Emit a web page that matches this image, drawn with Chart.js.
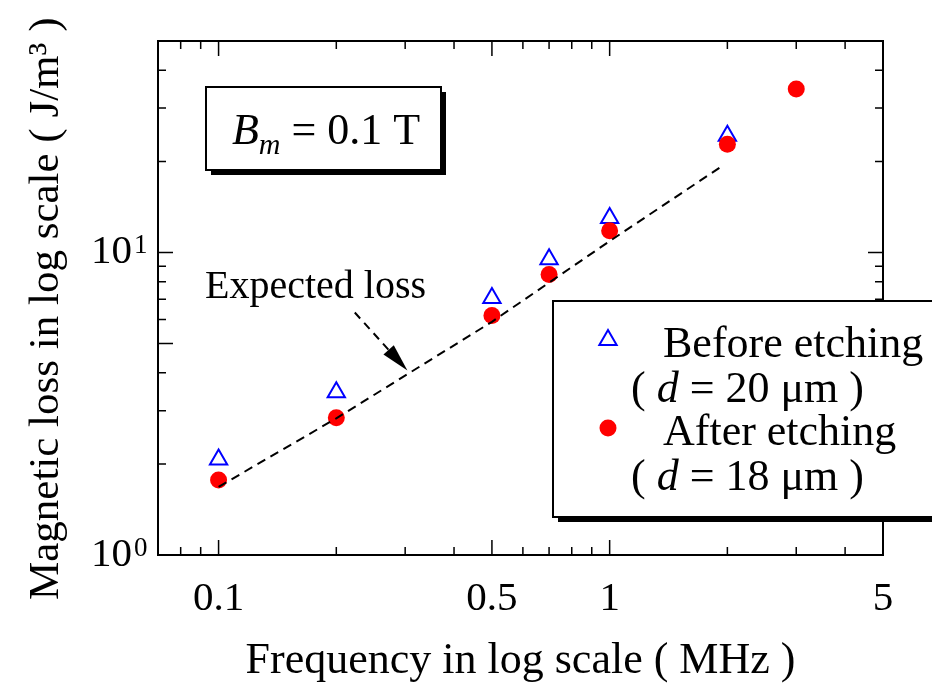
<!DOCTYPE html>
<html>
<head>
<meta charset="utf-8">
<script src="https://cdn.jsdelivr.net/npm/chart.js@4.4.1/dist/chart.umd.min.js"></script>
<style>
  body { margin: 0; background: #fff; }
  #wrap { width: 932px; height: 689px; }
</style>
</head>
<body>
<div id="wrap"><canvas id="lossChart" width="932" height="689"></canvas></div>
<script>
// Values (frequency in MHz, loss in J/m^3)
const freqBefore = [0.1, 0.2, 0.5, 0.7, 1, 2];
const lossBefore = [2.07, 3.45, 7.07, 9.5, 13.0, 24.3];
const freqAfter = [0.1, 0.2, 0.5, 0.7, 1, 2, 3];
const lossAfter = [1.77, 2.84, 6.19, 8.46, 11.8, 22.8, 34.7];
const freqExpected = [0.1, 0.2, 0.5, 1, 1.95];
const lossExpected = [1.68, 2.83, 5.9, 10.9, 19.4];

// Axes
const xRange = [0.07, 5];
const yRange = [1, 50];
const xLabelTicks = [0.1, 0.5, 1, 5];
const xMinorTicks = [0.08, 0.09, 0.2, 0.3, 0.4, 0.6, 0.7, 0.8, 0.9, 2, 3, 4];
const yLabelTicks = [1, 10];
const yLongTicks = [1, 5, 10];
const yMinorTicks = [2, 3, 4, 6, 7, 8, 9, 20, 30, 40];

// Annotation: "Expected loss" text and arrow (data coords)
const noteText = 'Expected loss';
const notePos = [0.177, 7.66];
const arrowFrom = [0.223, 6.33];
const arrowTo = [0.304, 4.07];

const legendLines = [
    ['Before etching', '20'],
    ['After etching', '18']
];

const serif = "'Liberation Serif', 'Times New Roman', serif";
Chart.defaults.font.family = serif;
Chart.defaults.color = '#000';

function toPts(xs, ys) {
    return xs.map((x, i) => ({ x: x, y: ys[i] }));
}

// draw a row of text runs with different fonts, starting at x
function drawRuns(ctx, x, y, runs) {
    runs.forEach(r => {
        ctx.font = r.font;
        ctx.fillText(r.text, x, y + (r.dy || 0));
        x += ctx.measureText(r.text).width;
    });
}
function runsWidth(ctx, runs) {
    let w = 0;
    runs.forEach(r => { ctx.font = r.font; w += ctx.measureText(r.text).width; });
    return w;
}

function shadowBox(ctx, x, y, w, h) {
    ctx.fillStyle = '#000';
    ctx.fillRect(x + 5, y + h, w, 5);
    ctx.fillRect(x + w, y + 5, 5, h);
    ctx.fillStyle = '#fff';
    ctx.fillRect(x, y, w, h);
    ctx.strokeStyle = '#000';
    ctx.lineWidth = 2;
    ctx.strokeRect(x, y, w, h);
}

const decorations = {
    id: 'decorations',
    beforeDraw(chart) {
        const ctx = chart.ctx;
        ctx.save();
        ctx.fillStyle = '#fff';
        ctx.fillRect(0, 0, chart.width, chart.height);
        ctx.restore();
    },
    afterDraw(chart) {
        const ctx = chart.ctx;
        const xs = chart.scales.x, ys = chart.scales.y;
        const a = chart.chartArea;
        ctx.save();

        // frame
        ctx.strokeStyle = '#000';
        ctx.lineWidth = 2;
        ctx.strokeRect(a.left, a.top, a.right - a.left, a.bottom - a.top);

        // ticks pointing inward on all four sides
        ctx.lineWidth = 1.5;
        ctx.beginPath();
        const xTick = (v, len) => {
            const px = xs.getPixelForValue(v);
            ctx.moveTo(px, a.bottom); ctx.lineTo(px, a.bottom - len);
            ctx.moveTo(px, a.top); ctx.lineTo(px, a.top + len);
        };
        const yTick = (v, len) => {
            const py = ys.getPixelForValue(v);
            ctx.moveTo(a.left, py); ctx.lineTo(a.left + len, py);
            ctx.moveTo(a.right, py); ctx.lineTo(a.right - len, py);
        };
        xLabelTicks.forEach(v => xTick(v, 15));
        xMinorTicks.forEach(v => xTick(v, 8));
        yLongTicks.forEach(v => yTick(v, 15));
        yMinorTicks.forEach(v => yTick(v, 8));
        ctx.stroke();

        // y tick labels as 10 with superscript exponent
        ctx.fillStyle = '#000';
        yLabelTicks.forEach(v => {
            const py = ys.getPixelForValue(v);
            ctx.font = '41px ' + serif;
            ctx.textAlign = 'right';
            ctx.textBaseline = 'middle';
            ctx.fillText('10', 132, py);
            ctx.font = '27px ' + serif;
            ctx.textAlign = 'left';
            ctx.textBaseline = 'alphabetic';
            ctx.fillText(String(Math.round(Math.log10(v))), 134, py + 1);
        });

        // "Expected loss" with dashed arrow
        ctx.font = '40px ' + serif;
        ctx.textAlign = 'center';
        ctx.textBaseline = 'middle';
        ctx.fillText(noteText, xs.getPixelForValue(notePos[0]), ys.getPixelForValue(notePos[1]));
        const x0 = xs.getPixelForValue(arrowFrom[0]), y0 = ys.getPixelForValue(arrowFrom[1]);
        const x1 = xs.getPixelForValue(arrowTo[0]), y1 = ys.getPixelForValue(arrowTo[1]);
        const ang = Math.atan2(y1 - y0, x1 - x0);
        const headLen = 28, headW = 7;
        const bx = x1 - headLen * Math.cos(ang), by = y1 - headLen * Math.sin(ang);
        ctx.setLineDash([8, 6]);
        ctx.lineWidth = 2;
        ctx.beginPath();
        ctx.moveTo(x0, y0);
        ctx.lineTo(bx, by);
        ctx.stroke();
        ctx.setLineDash([]);
        ctx.beginPath();
        ctx.moveTo(x1, y1);
        ctx.lineTo(bx + headW * Math.sin(ang), by - headW * Math.cos(ang));
        ctx.lineTo(bx - headW * Math.sin(ang), by + headW * Math.cos(ang));
        ctx.closePath();
        ctx.fill();

        // B_m box
        shadowBox(ctx, 206, 87, 235, 83);
        ctx.fillStyle = '#000';
        ctx.textAlign = 'left';
        ctx.textBaseline = 'alphabetic';
        const bRuns = [
            { text: 'B', font: 'italic 44px ' + serif },
            { text: 'm', font: 'italic 30px ' + serif, dy: 10 },
            { text: ' = 0.1 T', font: '44px ' + serif }
        ];
        drawRuns(ctx, 326 - runsWidth(ctx, bRuns) / 2, 144, bRuns);

        // legend box (runs past the right edge of the canvas)
        shadowBox(ctx, 553, 301, 400, 216);
        ctx.textBaseline = 'middle';
        const rowY = [345, 433];
        chart.data.datasets.slice(1).forEach((ds, i) => {
            ctx.save();
            ctx.strokeStyle = ds.borderColor;
            ctx.fillStyle = ds.backgroundColor;
            ctx.lineWidth = ds.borderWidth;
            Chart.helpers.drawPoint(ctx, {
                pointStyle: ds.pointStyle, radius: ds.pointRadius,
                rotation: 0, borderWidth: ds.borderWidth
            }, 608, rowY[i] - 5);
            ctx.restore();
            ctx.fillStyle = '#000';
            ctx.font = '44px ' + serif;
            ctx.fillText(legendLines[i][0], 663, rowY[i]);
            drawRuns(ctx, 631, rowY[i] + 45, [
                { text: '( ', font: '44px ' + serif },
                { text: 'd', font: 'italic 44px ' + serif },
                { text: ' = ' + legendLines[i][1] + ' \u03bcm )', font: '44px ' + serif }
            ]);
        });

        ctx.restore();
    }
};

const chart = new Chart(document.getElementById('lossChart'), {
    type: 'scatter',
    data: {
        datasets: [
            {
                label: 'Expected loss',
                data: toPts(freqExpected, lossExpected),
                showLine: true,
                borderColor: '#000',
                borderWidth: 2,
                borderDash: [9, 6],
                pointRadius: 0,
                tension: 0,
                order: 0
            },
            {
                label: 'Before etching',
                data: toPts(freqBefore, lossBefore),
                pointStyle: 'triangle',
                pointRadius: 10,
                borderColor: '#0000ff',
                backgroundColor: 'rgba(0,0,0,0)',
                borderWidth: 2,
                order: 2
            },
            {
                label: 'After etching',
                data: toPts(freqAfter, lossAfter),
                pointStyle: 'circle',
                pointRadius: 8.5,
                borderColor: '#ff0000',
                backgroundColor: '#ff0000',
                borderWidth: 0,
                order: 1
            }
        ]
    },
    options: {
        responsive: false,
        animation: false,
        layout: { padding: { left: 0, top: 41, right: 49, bottom: 0 } },
        plugins: { legend: { display: false }, tooltip: { enabled: false } },
        scales: {
            x: {
                type: 'logarithmic',
                min: xRange[0],
                max: xRange[1],
                afterFit: s => { s.height = 134; },
                afterBuildTicks: s => { s.ticks = xLabelTicks.map(v => ({ value: v })); },
                grid: { display: false, drawTicks: false },
                border: { display: false },
                ticks: {
                    autoSkip: false,
                    maxRotation: 0,
                    padding: 20,
                    font: { size: 41 },
                    color: '#000',
                    callback: v => String(v)
                },
                title: {
                    display: true,
                    text: 'Frequency in log scale ( MHz )',
                    font: { size: 44 },
                    color: '#000',
                    padding: { top: 0, bottom: 1 }
                }
            },
            y: {
                type: 'logarithmic',
                min: yRange[0],
                max: yRange[1],
                afterFit: s => { s.width = 158; },
                grid: { display: false, drawTicks: false },
                border: { display: false },
                ticks: { display: false },
                title: {
                    display: true,
                    text: 'Magnetic loss in log scale ( J/m\u00b3 )  ',
                    font: { size: 43 },
                    color: '#000',
                    padding: { top: 21, bottom: 0 }
                }
            }
        }
    },
    plugins: [decorations]
});
</script>
</body>
</html>
